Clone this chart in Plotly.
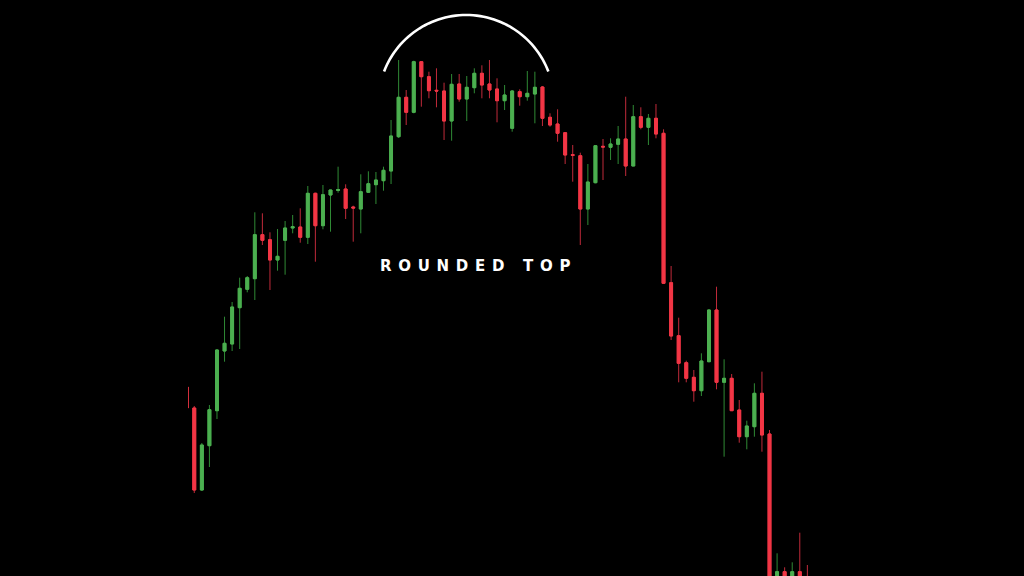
import math
import plotly.graph_objects as go

# ---- candle data (price units) ----
opens = [189, 168, 86, 130.3, 165.3, 225, 232, 268.3, 286.7, 297.3,
         341.3, 336.3, 316, 335.7, 348, 349, 338.7, 382.7, 350.3, 381,
         385.5, 387, 369, 367, 383.7, 391.3, 395.3, 405, 439.3, 478.7,
         463.7, 514.3, 499.3, 485.7, 485, 455, 492, 477, 488.3, 502.7,
         492, 487, 475.3, 447.7, 484.3, 479.3, 482, 489, 458.7, 452,
         443.3, 421.3, 420.3, 367, 393.3, 429.7, 428.7, 431.7, 437, 410,
         459.3, 448.7, 457.7, 442.7, 293.3, 240.3, 213.3, 198.7, 185.3, 214.3,
         266, 193.7, 197.7, 166, 139.3, 149.3, 182.7, 142, -24, 4.3,
         -24, 4.3, -24]
highs = [191, 170, 133, 171, 227, 259.3, 274, 298.3, 300, 363.7,
         362.7, 343.7, 347, 355, 361, 367.7, 390, 383.3, 391, 386.3,
         409.3, 391.7, 370.3, 401.7, 404.7, 404, 409.3, 456, 516, 486,
         515.3, 515, 504.3, 507.7, 493.3, 502, 502, 500, 507.7, 510.7,
         516, 497.7, 491, 486, 486.7, 505, 504.3, 490, 462.7, 466.7,
         443.7, 431, 423.3, 412, 431, 437, 437.7, 450, 479.3, 471,
         468.7, 462, 472, 446.7, 310, 258.3, 215.3, 206, 222.7, 266.7,
         289.3, 216.7, 202, 176, 155.3, 192.7, 204.3, 146, 22.7, 8.7,
         13.7, 43.3, 11]
lows = [167, 83, 85, 109, 157, 214.3, 225, 227, 283.7, 276,
        331, 286, 305.3, 301.3, 342.7, 333.3, 332, 314.3, 346.7, 344.3,
        383.3, 357, 334.3, 342.7, 383, 372, 385.3, 392, 438, 451,
        462.7, 469.3, 477.7, 468.7, 436, 435.3, 474.3, 455, 482.7, 477.7,
        477.7, 453.7, 466, 444.3, 470.3, 475.3, 452.7, 450, 449.3, 434.3,
        412, 394.3, 331, 351, 392.7, 396, 416, 412, 400, 410,
        446.7, 431, 437.7, 292, 236, 193.7, 193.7, 174.3, 180, 213.7,
        186.7, 119.3, 165.3, 133.3, 126.7, 139.3, 124.3, -29, -29, -29,
        -29, -29, -36]
closes = [168, 86, 131, 166.3, 226, 232.7, 269, 287.7, 298.3, 341.3,
          335.7, 316, 319.7, 348, 349.3, 338.7, 382.7, 350.3, 381.3, 386,
          386.5, 367.7, 368, 384.3, 392.3, 396, 405.7, 440, 478.7, 463.7,
          514.3, 499.3, 485.3, 485, 455, 491.7, 477, 488.7, 502.7, 491,
          486, 475.3, 481, 485, 479.3, 482.7, 488.7, 457.7, 451, 442.7,
          421, 420.7, 367, 394, 430.3, 429, 432, 437, 410, 459.3,
          448.7, 457.7, 442, 292.7, 240, 212.7, 197.7, 185.3, 215, 266,
          193.7, 197.7, 165.3, 139.3, 150, 182.7, 141, -24, 4.3, -24,
          4.3, -24, -34]
idx = list(range(len(opens)))

label_text = "ROUNDED TOP"

UP_BODY, DOWN_BODY = "#4caf50", "#f23645"
UP_WICK, DOWN_WICK = "#2f8a35", "#c02a3a"

body_hi = [max(o, c) for o, c in zip(opens, closes)]
body_lo = [min(o, c) for o, c in zip(opens, closes)]

fig = go.Figure()
# wicks
fig.add_trace(go.Candlestick(
    x=idx, open=opens, high=highs, low=lows, close=closes,
    increasing=dict(line=dict(color=UP_WICK, width=1), fillcolor=UP_WICK),
    decreasing=dict(line=dict(color=DOWN_WICK, width=1), fillcolor=DOWN_WICK),
    hoverinfo="skip", showlegend=False))
# bodies
fig.add_trace(go.Candlestick(
    x=idx, open=opens, high=body_hi, low=body_lo, close=closes,
    increasing=dict(line=dict(color=UP_BODY, width=1), fillcolor=UP_BODY),
    decreasing=dict(line=dict(color=DOWN_BODY, width=1), fillcolor=DOWN_BODY),
    hoverinfo="skip", showlegend=False))

# layout geometry
W, H = 1024, 576
L_MARGIN, R_MARGIN = 188, 216
x_first_px, step_px = 186.7, 7.569
x0 = (L_MARGIN - x_first_px) / step_px
x1 = (W - R_MARGIN - x_first_px) / step_px

# arc decoration (center / radius in axis units)
cx, cy, r_px = (466.2 - x_first_px) / step_px, 576 - 103, 88.0
pts = []
for k in range(61):
    a = math.radians(21 + (159 - 21) * k / 60)
    pts.append((cx + r_px * math.cos(a) / step_px, cy + r_px * math.sin(a)))
path = "M " + " L ".join(f"{px:.4f},{py:.3f}" for px, py in pts)

LS = 6.7
fig.update_layout(
    width=W, height=H, autosize=False,
    paper_bgcolor="black", plot_bgcolor="black",
    margin=dict(l=L_MARGIN, r=R_MARGIN, t=0, b=0, pad=0),
    boxgap=0.45,
    xaxis=dict(range=[x0, x1], visible=False, rangeslider=dict(visible=False),
               showgrid=False, zeroline=False),
    yaxis=dict(range=[0, H], visible=False, showgrid=False, zeroline=False),
    shapes=[dict(type="path", path=path, xref="x", yref="y",
                 line=dict(color="white", width=2.6))],
    annotations=[dict(
        x=(474.8 + LS / 2 - x_first_px) / step_px, y=576 - 265.5, xref="x", yref="y",
        text=f'<span style="letter-spacing:{LS}px">{label_text}</span>',
        showarrow=False, xanchor="center", yanchor="middle",
        font=dict(family="DejaVu Sans", size=15, color="white", weight="bold"))],
    showlegend=False,
)

fig.write_html("out.html", config={"displayModeBar": False},
               post_script="document.body.style.margin='0';document.body.style.background='black';")
